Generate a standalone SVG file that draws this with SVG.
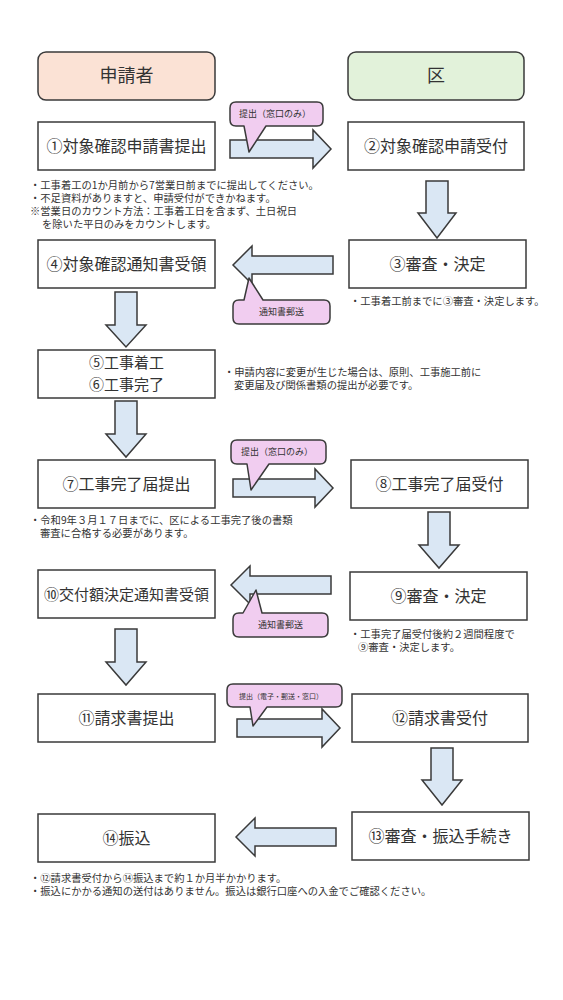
<svg xmlns="http://www.w3.org/2000/svg" width="563" height="1000" viewBox="0 0 563 1000">
<style>
.box{fill:#fff;stroke:#3a3a3a;stroke-width:1.5}
.hdr{stroke:#3a3a3a;stroke-width:1.5}
.arr{fill:#dae7f4;stroke:#3a3a3a;stroke-width:1.5;stroke-linejoin:miter}
.co{fill:#f1cdf0;stroke:#3a3a3a;stroke-width:1.5;stroke-linejoin:round}
text{font-family:"Noto Sans CJK JP","Noto Sans",sans-serif;fill:#333}
.t{font-size:16px;text-anchor:middle}
.h{font-size:18px;text-anchor:middle}
.n{font-size:10.3px}
.c{font-size:9px}
</style>
<rect width="563" height="1000" fill="#fff"/>
<g id="hdr-applicant"><rect class="hdr" x="38" y="52" width="177" height="48" rx="8" fill="#fbe2d5"/><text class="h" x="126.5" y="82">申請者</text></g>
<g id="hdr-ward"><rect class="hdr" x="348" y="52" width="176" height="48" rx="8" fill="#e2f2da"/><text class="h" x="436" y="82">区</text></g>

<g id="n1"><rect class="box" x="38" y="122" width="177" height="48"/><text class="t" x="126.5" y="152">①対象確認申請書提出</text></g>
<g id="n2"><rect class="box" x="348" y="122" width="176" height="48"/><text class="t" x="436" y="152">②対象確認申請受付</text></g>
<g id="n3"><rect class="box" x="349" y="240" width="177" height="48"/><text class="t" x="437.5" y="270">③審査・決定</text></g>
<g id="n4"><rect class="box" x="38" y="240" width="177" height="48"/><text class="t" x="126.5" y="270">④対象確認通知書受領</text></g>
<g id="n5"><rect class="box" x="38" y="350" width="177" height="48"/><text class="t" x="126.5" y="368" style="font-size:15px">⑤工事着工<tspan x="126.5" dy="22">⑥工事完了</tspan></text></g>
<g id="n7"><rect class="box" x="38" y="460" width="177" height="48"/><text class="t" x="126.5" y="490">⑦工事完了届提出</text></g>
<g id="n8"><rect class="box" x="351" y="460" width="177" height="48"/><text class="t" x="439.5" y="490">⑧工事完了届受付</text></g>
<g id="n9"><rect class="box" x="350" y="572" width="177" height="48"/><text class="t" x="438.5" y="602">⑨審査・決定</text></g>
<g id="n10"><rect class="box" x="38" y="570" width="177" height="48"/><text class="t" x="126.5" y="600" style="font-size:15px">⑩交付額決定通知書受領</text></g>
<g id="n11"><rect class="box" x="38" y="694" width="177" height="48"/><text class="t" x="126.5" y="724">⑪請求書提出</text></g>
<g id="n12"><rect class="box" x="352" y="694" width="176" height="48"/><text class="t" x="440" y="724">⑫請求書受付</text></g>
<g id="n13"><rect class="box" x="352" y="812" width="177" height="48"/><text class="t" x="440.5" y="842">⑬審査・振込手続き</text></g>
<g id="n14"><rect class="box" x="38" y="814" width="177" height="48"/><text class="t" x="126.5" y="844">⑭振込</text></g>

<g id="connectors">
<polygon class="arr" points="230,140 313,140 313,130 331,149 313,168 313,158 230,158"/>
<polygon class="arr" points="426,181 448,181 448,213 456,213 437,238 418,213 426,213"/>
<polygon class="arr" points="333,256 252,256 252,246 233,265 252,284 252,274 333,274"/>
<polygon class="arr" points="115,292 137,292 137,325 146,325 126,347 106,325 115,325"/>
<polygon class="arr" points="115,401 137,401 137,434 146,434 126,457 106,434 115,434"/>
<polygon class="arr" points="233,479 315,479 315,469 333,488 315,507 315,497 233,497"/>
<polygon class="arr" points="428,512 450,512 450,545 459,545 439,568 419,545 428,545"/>
<polygon class="arr" points="331,576 250,576 250,566 231,585 250,604 250,594 331,594"/>
<polygon class="arr" points="115,629 137,629 137,662 146,662 126,685 106,662 115,662"/>
<polygon class="arr" points="237,719 322,719 322,709 340,728 322,747 322,737 237,737"/>
<polygon class="arr" points="431,748 453,748 453,780 462,780 442,805 422,780 431,780"/>
<polygon class="arr" points="336,828 255,828 255,818 236,837 255,856 255,846 336,846"/>
</g>

<g id="callout1"><path class="co" d="M236,102 H317 Q323,102 323,108 V120 Q323,126 317,126 H266 L249,152 L244,126 H236 Q230,126 230,120 V108 Q230,102 236,102 Z"/><text class="c" x="239" y="117">提出（窓口のみ）</text></g>
<g id="callout2"><path class="co" d="M239,300 H244 L249,278 L263,300 H324 Q330,300 330,306 V318 Q330,324 324,324 H239 Q233,324 233,318 V306 Q233,300 239,300 Z"/><text class="c" x="281.5" y="315" text-anchor="middle">通知書郵送</text></g>
<g id="callout3"><path class="co" d="M237,440 H320 Q326,440 326,446 V458 Q326,464 320,464 H269 L251,490 L247,464 H237 Q231,464 231,458 V446 Q231,440 237,440 Z"/><text class="c" x="241" y="455">提出（窓口のみ）</text></g>
<g id="callout4"><path class="co" d="M239,613 H243 L256,590 L262,613 H322 Q328,613 328,619 V631 Q328,637 322,637 H239 Q233,637 233,631 V619 Q233,613 239,613 Z"/><text class="c" x="280.5" y="628" text-anchor="middle">通知書郵送</text></g>
<g id="callout5"><path class="co" d="M233,684 H336 Q342,684 342,690 V701 Q342,707 336,707 H267 L253,726 L250,707 H233 Q227,707 227,701 V690 Q227,684 233,684 Z"/><text x="239" y="699" style="font-size:7px">提出（電子・郵送・窓口）</text></g>

<g id="notes">
<text class="n" x="30" y="189">・工事着工の1か月前から7営業日前までに提出してください。<tspan x="30" dy="13">・不足資料がありますと、申請受付ができかねます。</tspan><tspan x="30" dy="13">※営業日のカウント方法：工事着工日を含まず、土日祝日</tspan><tspan x="42" dy="13">を除いた平日のみをカウントします。</tspan></text>
<text class="n" x="350" y="305">・工事着工前までに③審査・決定します。</text>
<text class="n" x="224" y="376">・申請内容に変更が生じた場合は、原則、工事施工前に<tspan x="234" dy="13">変更届及び関係書類の提出が必要です。</tspan></text>
<text class="n" x="30" y="524">・令和9年３月１７日までに、区による工事完了後の書類<tspan x="40" dy="13">審査に合格する必要があります。</tspan></text>
<text class="n" x="350" y="638">・工事完了届受付後約２週間程度で<tspan x="358" dy="13">⑨審査・決定します。</tspan></text>
<text class="n" x="30" y="882">・⑫請求書受付から⑭振込まで約１か月半かかります。<tspan x="30" dy="13">・振込にかかる通知の送付はありません。振込は銀行口座への入金でご確認ください。</tspan></text>
</g>
</svg>
